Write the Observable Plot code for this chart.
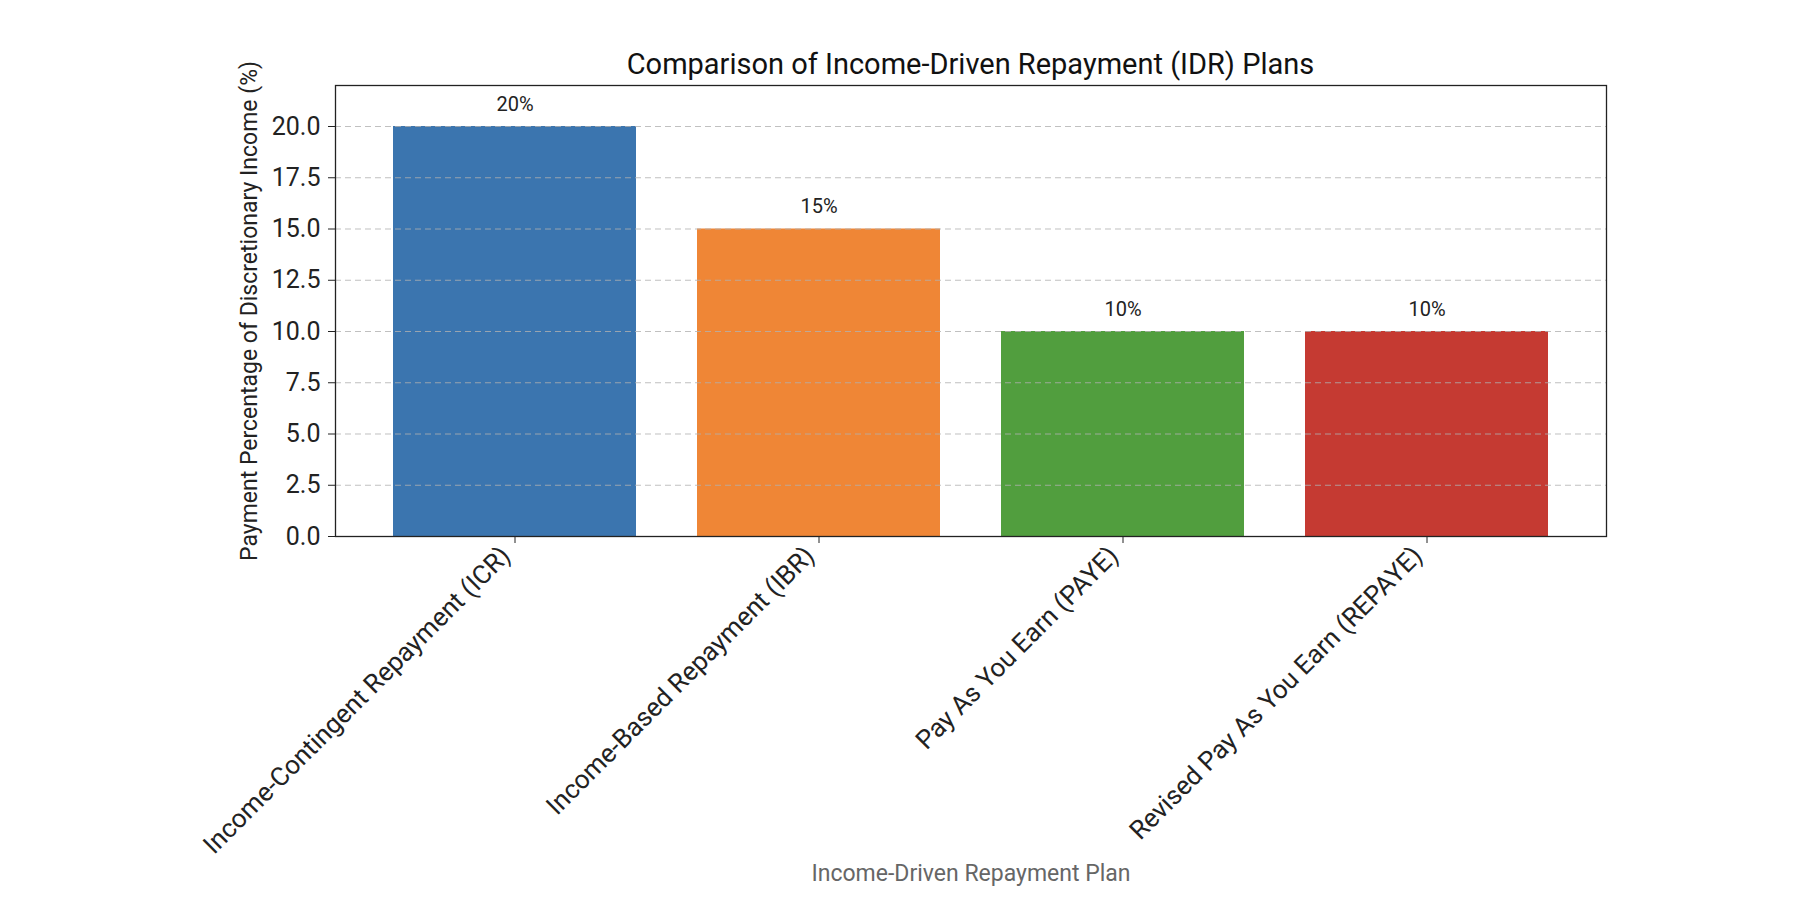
<!DOCTYPE html>
<html>
<head>
<meta charset="utf-8">
<script src="https://cdn.jsdelivr.net/npm/d3@7"></script>
<script src="https://cdn.jsdelivr.net/npm/@observablehq/plot@0.6"></script>
<style>
  html, body { margin: 0; padding: 0; background: #fff; }
  #wrap { position: relative; width: 1810px; height: 924px; font-family: Roboto, "Open Sans", sans-serif; }
  #title { position: absolute; z-index: 2; left: 335px; width: 1271px; top: 50px; text-align: center; font-size: 29px; color: #111; line-height: 1; }
</style>
</head>
<body>
<div id="wrap">
  <div id="title">Comparison of Income-Driven Repayment (IDR) Plans</div>
</div>
<script>
const plans = [
  "Income-Contingent Repayment (ICR)",
  "Income-Based Repayment (IBR)",
  "Pay As You Earn (PAYE)",
  "Revised Pay As You Earn (REPAYE)"
];
const percents = [20, 15, 10, 10];
const colors = ["#3b75af", "#ef8636", "#519e3e", "#c53a32"];
const yTicks = [0, 2.5, 5, 7.5, 10, 12.5, 15, 17.5, 20];

const data = plans.map((p, i) => ({plan: p, value: percents[i]}));

const chart = Plot.plot({
  width: 1810,
  height: 924,
  marginLeft: 335,
  marginRight: 204,
  marginTop: 85,
  marginBottom: 388,
  style: {fontFamily: "Roboto, 'Open Sans', sans-serif", background: "#fff", color: "#222"},
  x: {type: "band", domain: plans, paddingInner: 0.2, paddingOuter: 0.19},
  y: {domain: [0, 22]},
  color: {type: "ordinal", domain: plans, range: colors},
  marks: [
    Plot.barY(data, {x: "plan", y: "value", fill: "plan"}),
    Plot.gridY(yTicks, {stroke: "#b0b0b0", strokeOpacity: 0.8, strokeDasharray: "6,4", strokeWidth: 1}),
    Plot.text(data, {x: "plan", y: "value", text: d => d.value + "%", dy: -22, fontSize: 20, fill: "#222"}),
    Plot.frame({stroke: "#222", strokeWidth: 1.3}),
    Plot.axisY({
      ticks: yTicks, tickFormat: d3.format(".1f"), tickSize: 7, tickPadding: 8, fontSize: 25,
      label: "Payment Percentage of Discretionary Income (%)", labelAnchor: "center", labelArrow: "none", labelOffset: 95
    }),
    Plot.axisX({
      tickSize: 7, tickFormat: () => "",
      label: "Income-Driven Repayment Plan", labelAnchor: "center", labelArrow: "none", labelOffset: 344
    }),
    Plot.axisX({
      tickSize: 0, tickRotate: -45, tickPadding: 15, fontSize: 26, dx: -9, label: null
    })
  ]
});
chart.style.position = "absolute";
chart.style.left = "0";
chart.style.top = "0";
chart.style.zIndex = "1";
document.getElementById("wrap").appendChild(chart);
chart.querySelectorAll('g[aria-label="y-axis label"] text').forEach(t => { t.setAttribute("font-size", "23"); });
chart.querySelectorAll('g[aria-label="x-axis label"] text').forEach(t => { t.setAttribute("font-size", "23"); t.setAttribute("fill", "#666"); });
</script>
</body>
</html>
